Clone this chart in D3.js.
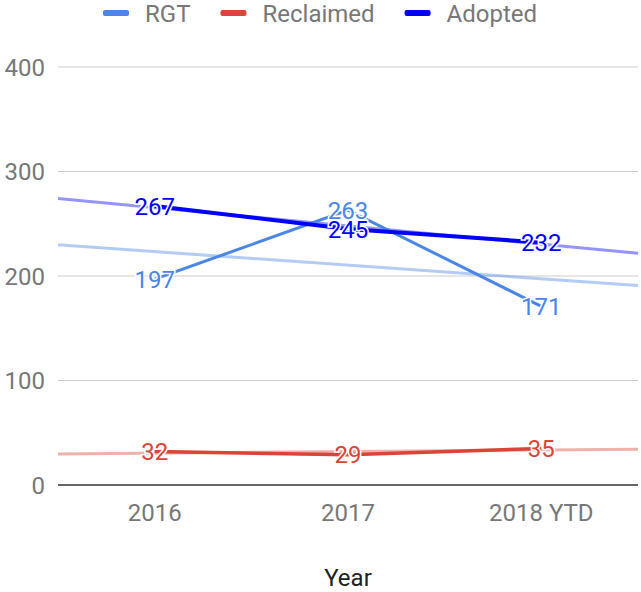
<!DOCTYPE html>
<html>
<head>
<meta charset="utf-8">
<script src="https://cdn.jsdelivr.net/npm/d3@7"></script>
<style>
  body { margin: 0; background: #fff; }
  text { font-family: Roboto, "Noto Sans", sans-serif; }
</style>
</head>
<body>
<svg id="chart"></svg>
<script>
// dados
const years = ["2016", "2017", "2018 YTD"];
const rgt = [197, 263, 171];
const reclaimed = [32, 29, 35];
const adopted = [267, 245, 232];
const yTicks = [0, 100, 200, 300, 400];

const series = [
  { name: "RGT", values: rgt, color: "#4a86e8", width: 3 },
  { name: "Reclaimed", values: reclaimed, color: "#db4437", width: 3.5 },
  { name: "Adopted", values: adopted, color: "#0000ff", width: 4 }
];

const w = 641, h = 592;
const margin = { top: 67, bottom: 107, left: 58, right: 3 };
const fs = 24;

const svg = d3.select("#chart").attr("width", w).attr("height", h);

const x = d3.scaleBand()
  .domain(years)
  .range([margin.left, w - margin.right]);

const y = d3.scaleLinear()
  .domain([0, 400])
  .range([h - margin.bottom, margin.top]);

const cx = d => x(d) + x.bandwidth() / 2;

// grade
svg.append("g").selectAll("line")
  .data(yTicks.filter(t => t > 0))
  .enter().append("line")
  .attr("x1", margin.left).attr("x2", w - margin.right)
  .attr("y1", d => y(d)).attr("y2", d => y(d))
  .attr("stroke", "#cccccc").attr("stroke-width", 1);

svg.append("g").selectAll("text")
  .data(yTicks)
  .enter().append("text")
  .attr("x", 45).attr("y", d => y(d))
  .attr("dy", "0.36em")
  .attr("text-anchor", "end")
  .attr("font-size", fs)
  .attr("fill", "#777")
  .text(d => d);

// eixo x
svg.append("line")
  .attr("x1", margin.left).attr("x2", w - margin.right)
  .attr("y1", y(0)).attr("y2", y(0))
  .attr("stroke", "#333").attr("stroke-width", 1.5);

svg.append("g").selectAll("text")
  .data(years)
  .enter().append("text")
  .attr("x", d => cx(d)).attr("y", 521)
  .attr("text-anchor", "middle")
  .attr("font-size", fs)
  .attr("fill", "#777")
  .text(d => d);

svg.append("text")
  .attr("x", cx(years[1])).attr("y", 586)
  .attr("text-anchor", "middle")
  .attr("font-size", fs)
  .attr("fill", "#222")
  .text("Year");

// linhas de tendencia (regressao linear sobre o indice)
const idx = d3.scaleLinear().domain([0, 1]).range([cx(years[0]), cx(years[1])]);
const trend = function(vals) {
  const n = vals.length;
  const mx = (n - 1) / 2;
  const my = d3.mean(vals);
  let num = 0, den = 0;
  vals.forEach((v, i) => { num += (i - mx) * (v - my); den += (i - mx) * (i - mx); });
  const b = num / den;
  const a = my - b * mx;
  const i0 = idx.invert(margin.left), i1 = idx.invert(w - margin.right);
  return [[i0, a + b * i0], [i1, a + b * i1]];
};

const trendG = svg.append("g");
series.forEach(s => {
  const t = trend(s.values);
  trendG.append("line")
    .attr("x1", idx(t[0][0])).attr("y1", y(t[0][1]))
    .attr("x2", idx(t[1][0])).attr("y2", y(t[1][1]))
    .attr("stroke", s.color)
    .attr("stroke-opacity", 0.42)
    .attr("stroke-width", 3);
});

// linhas
const line = d3.line()
  .x((d, i) => cx(years[i]))
  .y(d => y(d));

svg.append("g").selectAll("path")
  .data(series)
  .enter().append("path")
  .attr("d", d => line(d.values))
  .attr("fill", "none")
  .attr("stroke", d => d.color)
  .attr("stroke-width", d => d.width);

// rotulos
const labels = [];
series.forEach(s => s.values.forEach((v, i) => labels.push({ v: v, year: years[i], color: s.color })));

svg.append("g").selectAll("text")
  .data(labels)
  .enter().append("text")
  .attr("x", d => cx(d.year)).attr("y", d => y(d.v))
  .attr("dy", "0.36em")
  .attr("text-anchor", "middle")
  .attr("font-size", fs)
  .attr("fill", d => d.color)
  .attr("stroke", "#fff")
  .attr("stroke-width", 3)
  .attr("paint-order", "stroke")
  .text(d => d.v);

// legenda
const leg = svg.append("g");
let lx = 103;
series.forEach(s => {
  leg.append("rect")
    .attr("x", lx).attr("y", 10)
    .attr("width", 26).attr("height", 6)
    .attr("rx", 2)
    .attr("fill", s.color);
  const t = leg.append("text")
    .attr("x", lx + 42).attr("y", 22)
    .attr("font-size", fs)
    .attr("fill", "#777")
    .text(s.name);
  lx = lx + 42 + t.node().getComputedTextLength() + 30;
});
</script>
</body>
</html>
